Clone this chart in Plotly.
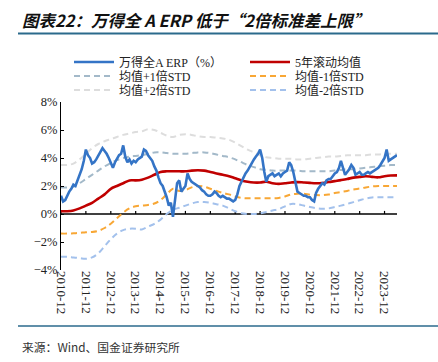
import plotly.graph_objects as go
import pandas as pd

# ---- data ----
erp = [1.3, 0.9, 1.0, 1.3, 1.6, 1.8, 2.1, 2.0, 2.4, 2.9, 3.2, 3.8,
       4.6, 4.2, 4.0, 3.6, 3.7, 3.9, 4.2, 4.4, 4.7, 4.5, 4.3, 4.0,
       3.6, 3.3, 3.7, 3.9, 4.2, 4.3, 4.9, 4.1, 3.7, 3.9, 3.6, 3.8,
       3.7, 3.9, 4.0, 4.1, 4.6, 4.5, 4.2, 4.0, 3.8, 3.4, 3.1, 2.6,
       2.2, 2.0, 1.6, 1.2, 0.6, 0.8, -0.2, 1.0, 2.2, 2.4, 1.6, 1.8,
       2.0, 2.9, 2.5, 2.3, 2.2, 2.1, 2.0, 1.9, 1.7, 1.6, 1.4, 1.3,
       1.3, 1.4, 1.6, 1.5, 1.3, 1.2, 1.3, 1.2, 1.1, 1.1, 1.0, 0.9,
       1.0, 1.4, 2.0, 2.3, 2.6, 2.9, 3.1, 3.4, 3.7, 3.9, 4.1, 4.3,
       4.6, 4.0, 3.0, 2.3, 2.7, 2.8, 2.9, 2.7, 2.8, 2.9, 2.7, 2.9,
       3.0, 3.1, 3.7, 3.5, 3.0, 2.2, 1.6, 1.5, 1.4, 1.3, 1.3, 1.2,
       1.2, 1.0, 0.9, 1.5, 1.8, 2.0, 2.2, 2.1, 2.4, 2.5, 2.5, 2.7,
       2.9, 3.0, 3.3, 3.8, 3.2, 2.8, 3.0, 3.2, 3.5, 3.3, 2.8, 2.9,
       3.0, 2.8, 2.8, 2.9, 3.0, 2.9, 3.0, 3.1, 3.2, 3.3, 3.5, 3.8,
       4.0, 4.6, 3.8, 3.9, 4.0, 4.1, 4.2]

roll_mean = [0.2, 0.2, 0.25, 0.4, 0.6, 0.8, 1.1, 1.4, 1.8, 2.0, 2.2, 2.4,
             2.4, 2.45, 2.6, 2.8, 3.0, 3.05, 3.05, 3.05, 3.05, 3.1, 3.12, 3.1,
             3.0, 2.9, 2.8, 2.7, 2.55, 2.4, 2.3, 2.25, 2.25, 2.3, 2.2, 2.15,
             2.2, 2.25, 2.28, 2.25, 2.22, 2.2, 2.22, 2.28, 2.35, 2.42, 2.5, 2.6,
             2.65, 2.7, 2.65, 2.62, 2.7, 2.75, 2.76]

plus1 = [1.9, 1.9, 1.95, 2.2, 2.5, 2.8, 3.1, 3.4, 3.65, 3.85, 4.0, 4.1,
         4.15, 4.2, 4.3, 4.4, 4.4, 4.35, 4.3, 4.3, 4.3, 4.35, 4.4, 4.4,
         4.35, 4.25, 4.15, 4.05, 3.9, 3.7, 3.5, 3.35, 3.2, 3.15, 3.1, 3.1,
         3.1, 3.1, 3.1, 3.05, 3.05, 3.05, 3.05, 3.05, 3.1, 3.15, 3.2, 3.2,
         3.25, 3.3, 3.35, 3.4, 3.45, 3.5, 3.5]

plus2 = [3.5, 3.5, 3.6, 3.9, 4.3, 4.7, 5.0, 5.2, 5.35, 5.5, 5.65, 5.75,
         5.85, 5.9, 6.05, 6.0, 5.8, 5.6, 5.5, 5.65, 5.7, 5.65, 5.55, 5.5,
         5.5, 5.45, 5.4, 5.3, 5.1, 4.85, 4.6, 4.4, 4.2, 4.05, 4.0, 3.95,
         3.95, 3.95, 3.9, 3.9, 3.95, 4.0, 4.05, 4.1, 4.1, 4.15, 4.2, 4.2,
         4.2, 4.2, 4.25, 4.25, 4.3, 4.3, 4.3]

minus1 = [-1.4, -1.4, -1.38, -1.35, -1.3, -1.28, -1.2, -1.0, -0.7, -0.3, 0.1, 0.4,
          0.55, 0.6, 0.65, 0.75, 1.0, 1.4, 1.8, 1.65, 1.7, 1.9, 2.0, 1.95,
          1.8, 1.65, 1.5, 1.4, 1.25, 1.15, 1.12, 1.12, 1.12, 1.12, 1.12, 1.15,
          1.25, 1.4, 1.45, 1.45, 1.38, 1.35, 1.35, 1.4, 1.5, 1.57, 1.65, 1.75,
          1.82, 1.9, 1.97, 2.0, 2.0, 2.0, 2.0]

minus2 = [-3.05, -3.05, -3.1, -3.15, -3.2, -3.1, -2.8, -2.3, -1.8, -1.4, -1.15, -1.05,
          -1.05, -1.1, -0.9, -0.7, -0.4, 0.0, 0.3, 0.45, 0.6, 0.75, 0.85, 0.85,
          0.8, 0.7, 0.6, 0.4, 0.2, 0.05, 0.0, 0.0, 0.05, 0.15, 0.25, 0.35,
          0.55, 0.72, 0.7, 0.6, 0.5, 0.42, 0.38, 0.4, 0.5, 0.6, 0.72, 0.85,
          0.98, 1.1, 1.18, 1.2, 1.2, 1.2, 1.2]

names = ["万得全A ERP（%）", "5年滚动均值", "均值+1倍STD", "均值-1倍STD",
         "均值+2倍STD", "均值-2倍STD"]

monthly = pd.date_range("2010-12-01", periods=len(erp), freq="MS")
quarterly = pd.date_range("2010-12-01", periods=len(roll_mean), freq="3MS")
year_ticks = pd.date_range("2010-12-01", "2023-12-01", freq="12MS")

# ---- geometry ----
W, H = 438, 362
L, R = 61, 397
T, B = 101.7, 270
PW, PH = R - L, B - T

def px(x):
    return (x - L) / PW

def py(y):
    return (B - y) / PH

serif = "Liberation Serif, Noto Sans CJK SC"
fig = go.Figure()

dash = "6px,4px"
series = [
    (monthly, erp, dict(color="#3474c6", width=2.6)),
    (quarterly, roll_mean, dict(color="#c00000", width=2.6, shape="spline")),
    (quarterly, plus1, dict(color="#a3b9c9", width=2, dash=dash, shape="spline")),
    (quarterly, minus1, dict(color="#f8a735", width=2, dash=dash, shape="spline")),
    (quarterly, plus2, dict(color="#dddddd", width=2, dash=dash, shape="spline")),
    (quarterly, minus2, dict(color="#a3c1ec", width=2, dash=dash, shape="spline")),
]
legend_ids = ["legend", "legend2", "legend3", "legend4", "legend5", "legend6"]
order = [4, 5, 2, 3, 1, 0]
for i in order:
    xs, ys, ln = series[i]
    fig.add_trace(go.Scatter(x=xs, y=ys, name=names[i], mode="lines", line=ln,
                             legend=legend_ids[i]))

leg_font = dict(family=serif, size=12, color="#222")
leg_pos = [(69, 62), (245, 62), (69, 76), (245, 76), (69, 90), (245, 90)]
legends = {}
for lid, (lx, ly) in zip(legend_ids, leg_pos):
    legends[lid] = dict(xref="container", yref="container", x=lx / W, y=1 - ly / H,
                        xanchor="left", yanchor="middle", itemwidth=40,
                        font=leg_font, bgcolor="rgba(0,0,0,0)")

xr = [monthly[0], monthly[-1]]
fig.update_layout(
    width=W, height=H,
    margin=dict(l=L, r=W - R, t=T, b=H - B, autoexpand=False),
    paper_bgcolor="white", plot_bgcolor="white",
    showlegend=True,
    xaxis=dict(range=xr, tickvals=year_ticks, tickformat="%Y-%m",
               tickangle=90, showgrid=False, showline=False, ticks="",
               zeroline=False, tickfont=dict(family=serif, size=13, color="#222")),
    yaxis=dict(range=[-4, 8], dtick=2, ticksuffix="%", showgrid=False,
               showline=True, linecolor="black", linewidth=1.2,
               ticks="inside", ticklen=3, tickcolor="black", zeroline=False,
               tickfont=dict(family=serif, size=12.5, color="#222")),
    font=dict(family=serif),
    **legends,
)

# category axis line at 0% and its small upward tick marks
fig.add_shape(type="line", xref="paper", yref="y", x0=0, x1=1, y0=0, y1=0,
              line=dict(color="black", width=1.3), layer="below")
for d in year_ticks:
    fig.add_shape(type="line", xref="x", yref="y",
                  x0=d, x1=d, y0=0, y1=0.22, line=dict(color="black", width=1.2),
                  layer="below")

fig.add_shape(type="line", xref="paper", yref="paper",
              x0=px(18), x1=px(438), y0=py(33), y1=py(33),
              line=dict(color="#2b6a8c", width=2))
fig.add_shape(type="line", xref="paper", yref="paper",
              x0=px(18), x1=px(438), y0=py(326), y1=py(326),
              line=dict(color="#2b6a8c", width=1.5))

fig.add_annotation(text="<b><i>图表22：万得全 A ERP 低于“2倍标准差上限”</i></b>",
                   xref="paper", yref="paper", x=px(20), y=py(20),
                   xanchor="left", yanchor="middle", showarrow=False,
                   font=dict(family="Noto Sans CJK SC", size=16.5, color="#111"))
fig.add_annotation(text="来源：Wind、国金证券研究所",
                   xref="paper", yref="paper", x=px(20), y=py(347),
                   xanchor="left", yanchor="middle", showarrow=False,
                   font=dict(family="Noto Sans CJK SC", size=11.8, color="#333"))

fig.write_html("out.html", config={"displayModeBar": False},
               post_script="document.body.style.margin='0';document.body.style.padding='0';")
